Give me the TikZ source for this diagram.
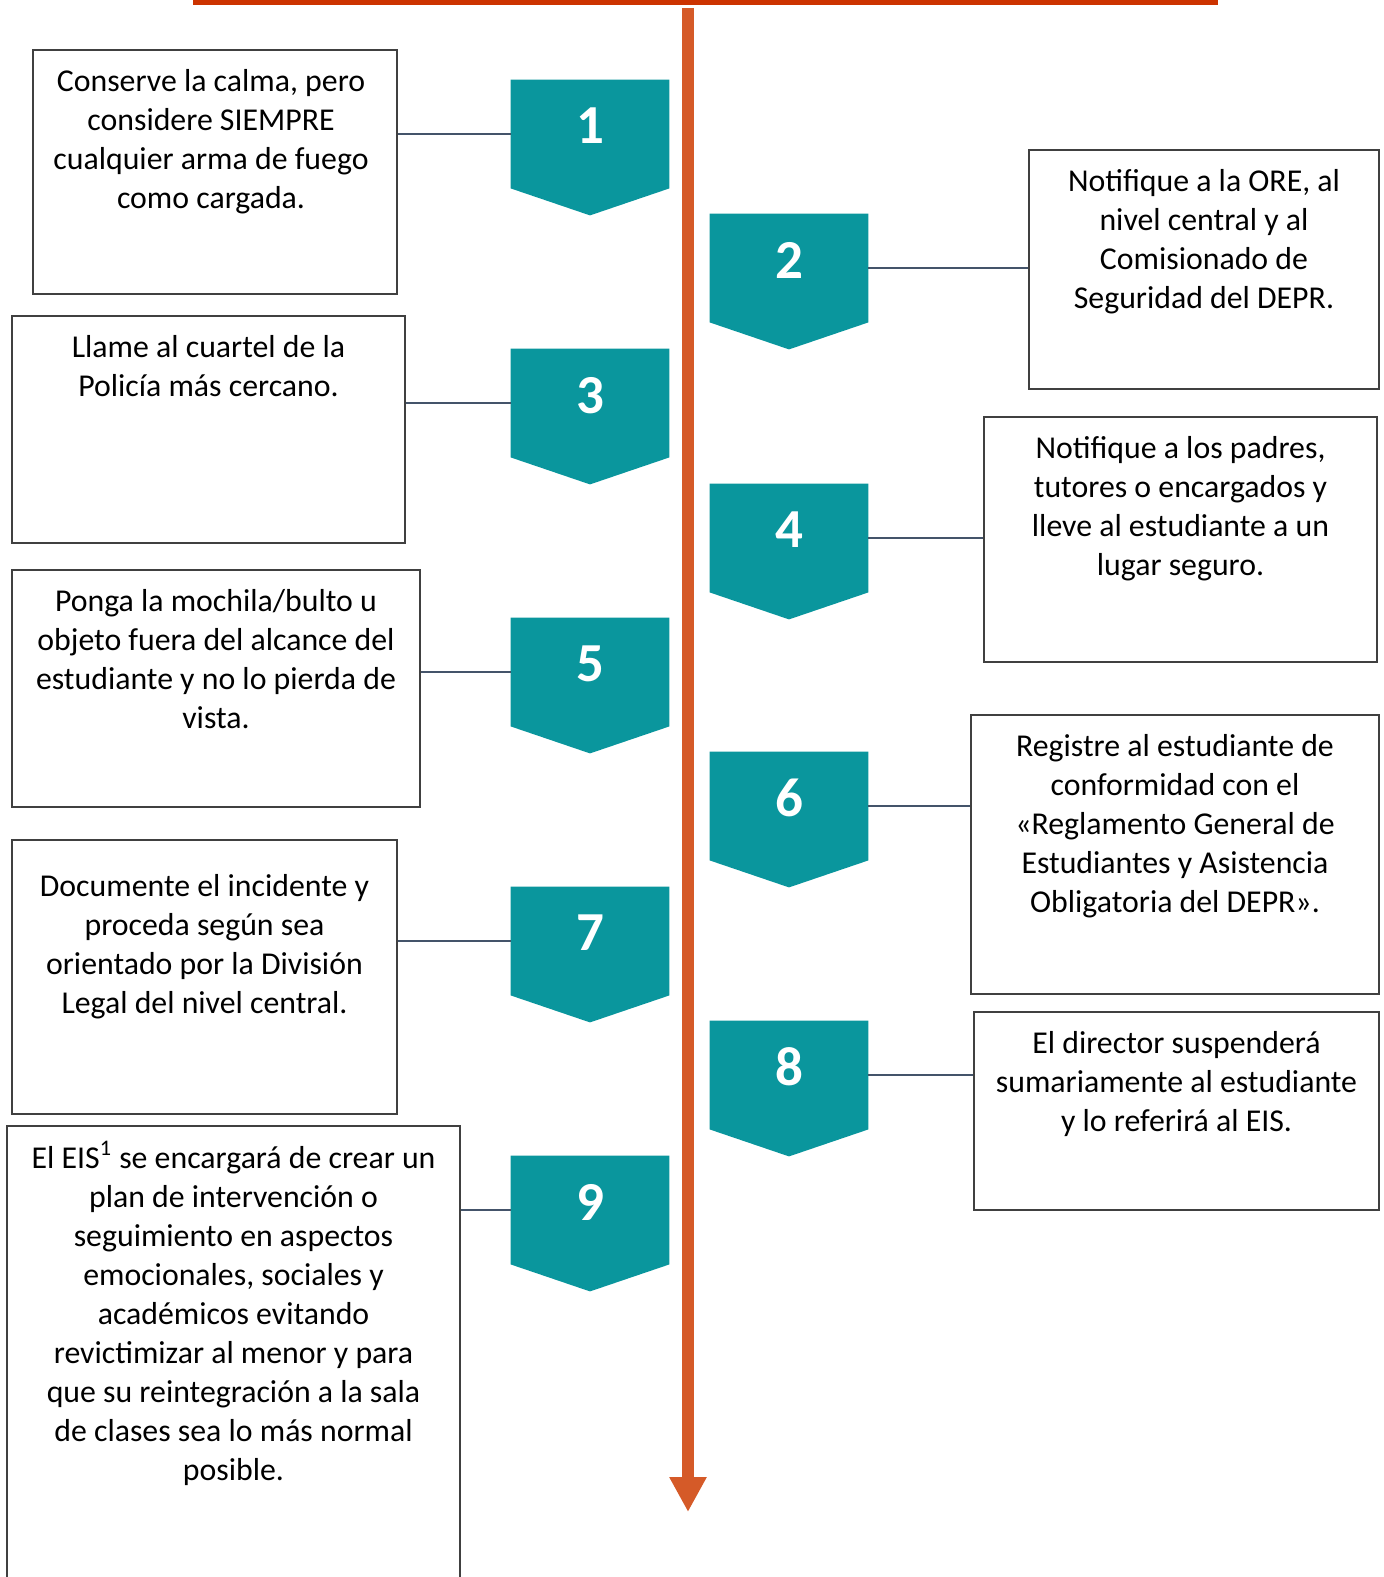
\documentclass[tikz,border=0pt]{standalone}
\usepackage{fontspec}
\setmainfont{Carlito}
\usetikzlibrary{positioning,arrows.meta,backgrounds}
\definecolor{stepteal}{RGB}{10,150,157}
\definecolor{barred}{RGB}{204,51,0}
\definecolor{axisorange}{RGB}{213,90,40}
\definecolor{linkgray}{RGB}{68,84,106}
\begin{document}
\begin{tikzpicture}[x=0.5pt, y=-0.5pt,
chev/.style ={ minimum width =79pt, minimum height =54pt, inner sep =0pt,
text=white, text depth =8pt, font=\fontsize{27.5}{30}\selectfont\bfseries},
box/.style ={ draw=black!75, line width =0.75pt, inner sep =0pt},
txt/.style ={ align=center, inner sep =0pt, font=\fontsize{15.9}{19.5}\selectfont},
link/.style ={ linkgray, line width =1pt},
axis/.style ={ axisorange, line width =6pt, -{Triangle[width=17.5pt,length=17.5pt]}}]
\useasboundingbox (0,0) rectangle (1384,1577);
\coordinate (barl) at (193,2.5);
\coordinate (barr) at (1218,2.5);
\coordinate (axtop) at (688,8);
\coordinate (axend) at (688,1512);
\draw[barred, line width=2.5pt] (barl) -- (barr);
\draw[axis] (axtop) -- (axend);
\node[chev] (s1) at (590,134) {1};
\node[chev] (s2) at (789,268) {2};
\node[chev] (s3) at (590,403) {3};
\node[chev] (s4) at (789,538) {4};
\node[chev] (s5) at (590,672) {5};
\node[chev] (s6) at (789,806) {6};
\node[chev] (s7) at (590,941) {7};
\node[chev] (s8) at (789,1075) {8};
\node[chev] (s9) at (590,1210) {9};
\begin{scope}[on background layer]
\foreach \i in {1,...,9}
\fill[stepteal] (s\i.north west) -- (s\i.north east) -- (s\i.south east)
-- ([yshift=-13.5pt]s\i.south) -- (s\i.south west) -- cycle;
\end{scope}
\node[box, minimum width=182pt, minimum height=122pt] (b1) at (215,172) {};
\node[box, minimum width=175pt, minimum height=119.5pt] (b2) at (1204,269.5) {};
\node[box, minimum width=196.5pt, minimum height=113.5pt] (b3) at (208.5,429.5) {};
\node[box, minimum width=196.5pt, minimum height=122.5pt] (b4) at (1180.5,539.5) {};
\node[box, minimum width=204pt, minimum height=118.5pt] (b5) at (216,688.5) {};
\node[box, minimum width=204pt, minimum height=139.5pt] (b6) at (1175,854.5) {};
\node[box, minimum width=192.5pt, minimum height=137pt] (b7) at (204.5,977) {};
\node[box, minimum width=202.5pt, minimum height=99pt] (b8) at (1176.5,1111) {};
\node[box, minimum width=226.5pt, minimum height=237pt] (b9) at (233.5,1363) {};
\node[txt, below=10pt of b1.north, xshift=-2pt] (t1) {Conserve la calma, pero\\considere SIEMPRE\\cualquier arma de fuego\\como cargada.};
\node[txt, below=10pt of b2.north] (t2) {Notifique a la ORE, al\\nivel central y al\\Comisionado de\\Seguridad del DEPR.};
\node[txt, below=10pt of b3.north] (t3) {Llame al cuartel de la\\Policía más cercano.};
\node[txt, below=10pt of b4.north] (t4) {Notifique a los padres,\\tutores o encargados y\\lleve al estudiante a un\\lugar seguro.};
\node[txt, below=10pt of b5.north] (t5) {Ponga la mochila/bulto u\\objeto fuera del alcance del\\estudiante y no lo pierda de\\vista.};
\node[txt, below=10pt of b6.north] (t6) {Registre al estudiante de\\conformidad con el\\«Reglamento General de\\Estudiantes y Asistencia\\Obligatoria del DEPR».};
\node[txt, below=17.5pt of b7.north] (t7) {Documente el incidente y\\proceda según sea\\orientado por la División\\Legal del nivel central.};
\node[txt, below=10pt of b8.north] (t8) {El director suspenderá\\sumariamente al estudiante\\y lo referirá al EIS.};
\node[txt, below=8pt of b9.north] (t9) {El EIS\textsuperscript{1} se encargará de crear un\\plan de intervención o\\seguimiento en aspectos\\emocionales, sociales y\\académicos evitando\\revictimizar al menor y para\\que su reintegración a la sala\\de clases sea lo más normal\\posible.};
\draw[link] (b1.east |- s1.west) -- (s1.west);
\draw[link] (s2.east) -- (s2.east -| b2.west);
\draw[link] (b3.east |- s3.west) -- (s3.west);
\draw[link] (s4.east) -- (s4.east -| b4.west);
\draw[link] (b5.east |- s5.west) -- (s5.west);
\draw[link] (s6.east) -- (s6.east -| b6.west);
\draw[link] (b7.east |- s7.west) -- (s7.west);
\draw[link] (s8.east) -- (s8.east -| b8.west);
\draw[link] (b9.east |- s9.west) -- (s9.west);
\end{tikzpicture}
\end{document}
